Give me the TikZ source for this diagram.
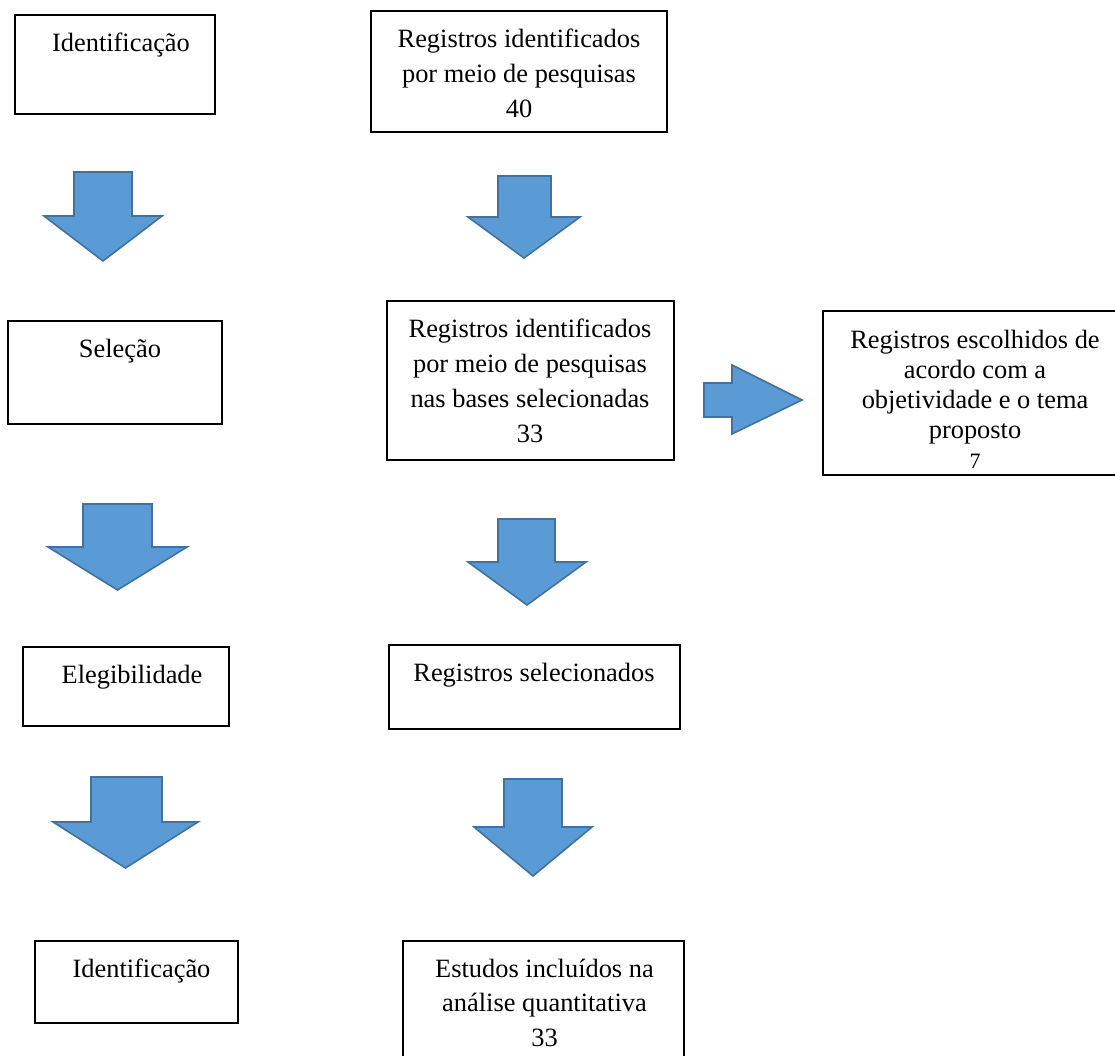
\documentclass[tikz,border=0pt]{standalone}
\usepackage{fontspec}
\setmainfont{Liberation Serif}
\definecolor{arrowfill}{HTML}{5B9BD5}
\definecolor{arrowline}{HTML}{41719C}
\tikzset{
  box/.style={draw=black, line width=2pt, rectangle, inner sep=0pt, outer sep=0pt, anchor=north west},
  lbl/.style={inner sep=0pt, align=center, font=\fontsize{26.4}{35}\selectfont},
  blk/.style={fill=arrowfill, draw=arrowline, line width=1.6pt, line join=miter},
}
% #1 body left, #2 body right, #3 top, #4 shoulder, #5 head left, #6 head right, #7 tip
\newcommand\blockdown[7]{%
  \draw[blk] (#1,#3) -- (#2,#3) -- (#2,#4) -- (#6,#4) -- ({(#5+#6)/2},#7) -- (#5,#4) -- (#1,#4) -- cycle;}
\begin{document}
\begin{tikzpicture}[x=1pt,y=-1pt]
\path[use as bounding box] (0,0) rectangle (1115,1056);
\clip (0,0) rectangle (1115,1056);

% boxes
\node[box, minimum width=200pt, minimum height=99pt]  (b1) at (15,15) {};
\node[box, minimum width=296pt, minimum height=121pt] (b2) at (371,11) {};
\node[box, minimum width=214pt, minimum height=103pt] (b3) at (8,321) {};
\node[box, minimum width=287pt, minimum height=159pt] (b4) at (386.5,301) {};
\node[box, minimum width=310pt, minimum height=164pt] (b5) at (823,311) {};
\node[box, minimum width=206pt, minimum height=79pt]  (b6) at (23,647) {};
\node[box, minimum width=291pt, minimum height=84pt]  (b7) at (389,645) {};
\node[box, minimum width=203pt, minimum height=82pt]  (b8) at (35,941) {};
\node[box, minimum width=281pt, minimum height=140pt] (b9) at (403,941) {};

% labels
\node[lbl, anchor=base]  (t1) at (121,52) {Identificação};
\node[lbl, anchor=north] (t2) at (519,28.7) {Registros identificados\\por meio de pesquisas\\40};
\node[lbl, anchor=base]  (t3) at (120,357) {Seleção};
\node[lbl, anchor=north] (t4) at (530,319) {Registros identificados\\por meio de pesquisas\\nas bases selecionadas\\33};
\node[lbl, anchor=north, font=\fontsize{26.4}{30}\selectfont] (t5) at (975,330)
  {Registros escolhidos de\\acordo com a\\objetividade e o tema\\proposto\\{\fontsize{22}{30}\selectfont 7}};
\node[lbl, anchor=base]  (t6) at (132,683) {Elegibilidade};
\node[lbl, anchor=base]  (t7) at (534,681) {Registros selecionados};
\node[lbl, anchor=base]  (t8) at (141.5,977) {Identificação};
\node[lbl, anchor=north, font=\fontsize{26.4}{34.5}\selectfont] (t9) at (544.5,958.7)
  {Estudos incluídos na\\análise quantitativa\\33};

% block arrows
\blockdown{74}{132}{172}{216}{44}{162}{261}
\blockdown{498}{551}{176}{217}{468}{580}{258}
\blockdown{83}{152}{504}{547}{48}{187}{590}
\blockdown{498}{555}{519}{562}{468}{586}{605}
\blockdown{91}{162}{777}{822}{53}{198}{868}
\blockdown{504}{562}{779}{827}{474}{592}{876}
\draw[blk] (704,383) -- (732,383) -- (732,365) -- (802,400) -- (732,434) -- (732,417) -- (704,417) -- cycle;
\end{tikzpicture}
\end{document}
